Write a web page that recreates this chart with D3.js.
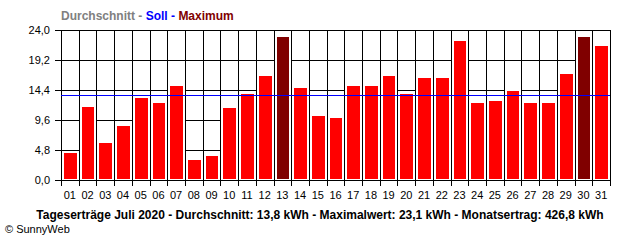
<!DOCTYPE html>
<html>
<head>
    <meta charset="utf-8">
    <title>Tageserträge Juli 2020</title>
    <script src="https://d3js.org/d3.v7.min.js" charset="utf-8"></script>
    <style>
    body {
        margin: 0;
        background: #fff;
    }
    text {
        font-family: "Liberation Sans", Arial, sans-serif;
    }
    </style>
</head>
<body>
<script>

// Daily yield in kWh, July 2020
var days = ["01","02","03","04","05","06","07","08","09","10","11","12","13","14","15","16",
            "17","18","19","20","21","22","23","24","25","26","27","28","29","30","31"];
var values = [4.5, 11.9, 6.1, 8.8, 13.3, 12.5, 15.2, 3.4, 4.0, 11.7, 14.0, 16.8, 23.1, 14.9, 10.4, 10.1,
              15.2, 15.2, 16.8, 14.0, 16.5, 16.5, 22.4, 12.5, 12.8, 14.4, 12.5, 12.5, 17.2, 23.1, 21.6];
var soll = 13.6;
var yTicks = [0, 4.8, 9.6, 14.4, 19.2, 24.0];
var legendParts = [["Durchschnitt", "#808080"], [" - ", "#808080"], ["Soll", "#0000ff"],
                   [" - ", "#0000ff"], ["Maximum", "#800000"]];
var footer = "Tageserträge Juli 2020 - Durchschnitt: 13,8 kWh - Maximalwert: 23,1 kWh - Monatsertrag: 426,8 kWh";

// note: "top" is taken by window.top, so plot edges get their own names
var width = 640,
    height = 240,
    plotLeft = 61, plotRight = 610, plotTop = 30, plotBottom = 180;

var svg = d3.select("body")
    .append("svg")
    .attr("width", width)
    .attr("height", height);

var x = d3.scaleBand()
    .domain(days)
    .range([plotLeft, plotRight]);

var y = d3.scaleLinear()
    .domain([0, 24])
    .range([plotBottom, plotTop]);

var maxVal = d3.max(values);
var fmt = function(v) { return d3.format(".1f")(v).replace(".", ","); };

// legend line on top
var legend = svg.append("text")
    .attr("x", plotLeft)
    .attr("y", 20)
    .attr("font-size", "12px")
    .attr("font-weight", "bold")
    .style("white-space", "pre");
legend.selectAll("tspan")
    .data(legendParts)
    .enter()
    .append("tspan")
    .attr("fill", function(d) { return d[1]; })
    .text(function(d) { return d[0]; });

// grid: horizontal lines with small ticks left of the axis
svg.append("g")
    .selectAll("line")
    .data(yTicks)
    .enter()
    .append("line")
    .attr("x1", plotLeft - 6)
    .attr("x2", plotRight)
    .attr("y1", function(d) { return Math.round(y(d)) + 0.5; })
    .attr("y2", function(d) { return Math.round(y(d)) + 0.5; })
    .attr("stroke", "#000");

// vertical lines between the days, ticks below the axis
var edges = days.map(function(d) { return x(d); }).concat([plotRight]);
svg.append("g")
    .selectAll("line")
    .data(edges)
    .enter()
    .append("line")
    .attr("x1", function(d) { return Math.round(d) + 0.5; })
    .attr("x2", function(d) { return Math.round(d) + 0.5; })
    .attr("y1", plotTop)
    .attr("y2", plotBottom + 6)
    .attr("stroke", "#000");

// bars, white outline hides the grid behind them
svg.append("g")
    .selectAll("rect")
    .data(values)
    .enter()
    .append("rect")
    .attr("x", function(d, i) { return Math.round(x(days[i])) + 2; })
    .attr("width", function(d, i) { return Math.round(x(days[i]) + x.bandwidth()) - Math.round(x(days[i])) - 3; })
    .attr("y", function(d) { return Math.round(y(d)); })
    .attr("height", function(d) { return plotBottom - Math.round(y(d)); })
    .attr("fill", function(d) { return d == maxVal ? "#800000" : "#ff0000"; })
    .attr("stroke", "#fff")
    .attr("stroke-width", 2);

// redraw the base line over the bar outlines
svg.append("line")
    .attr("x1", plotLeft - 6)
    .attr("x2", plotRight)
    .attr("y1", plotBottom + 0.5)
    .attr("y2", plotBottom + 0.5)
    .attr("stroke", "#000");

// Soll line
svg.append("line")
    .attr("x1", plotLeft)
    .attr("x2", plotRight)
    .attr("y1", Math.round(y(soll)) + 0.5)
    .attr("y2", Math.round(y(soll)) + 0.5)
    .attr("stroke", "#0000ff");

// y labels
svg.append("g")
    .selectAll("text")
    .data(yTicks)
    .enter()
    .append("text")
    .attr("x", 50)
    .attr("y", function(d) { return y(d) + 4; })
    .attr("text-anchor", "end")
    .attr("font-size", "11px")
    .text(fmt);

// x labels
svg.append("g")
    .selectAll("text")
    .data(days)
    .enter()
    .append("text")
    .attr("x", function(d) { return x(d) + x.bandwidth() / 2; })
    .attr("y", 199)
    .attr("text-anchor", "middle")
    .attr("font-size", "11px")
    .text(function(d) { return d; });

// footer
svg.append("text")
    .attr("x", 320)
    .attr("y", 219)
    .attr("text-anchor", "middle")
    .attr("font-size", "12px")
    .attr("font-weight", "bold")
    .text(footer);

svg.append("text")
    .attr("x", 5)
    .attr("y", 233)
    .attr("font-size", "11px")
    .text("© SunnyWeb");

</script>
</body>
</html>
